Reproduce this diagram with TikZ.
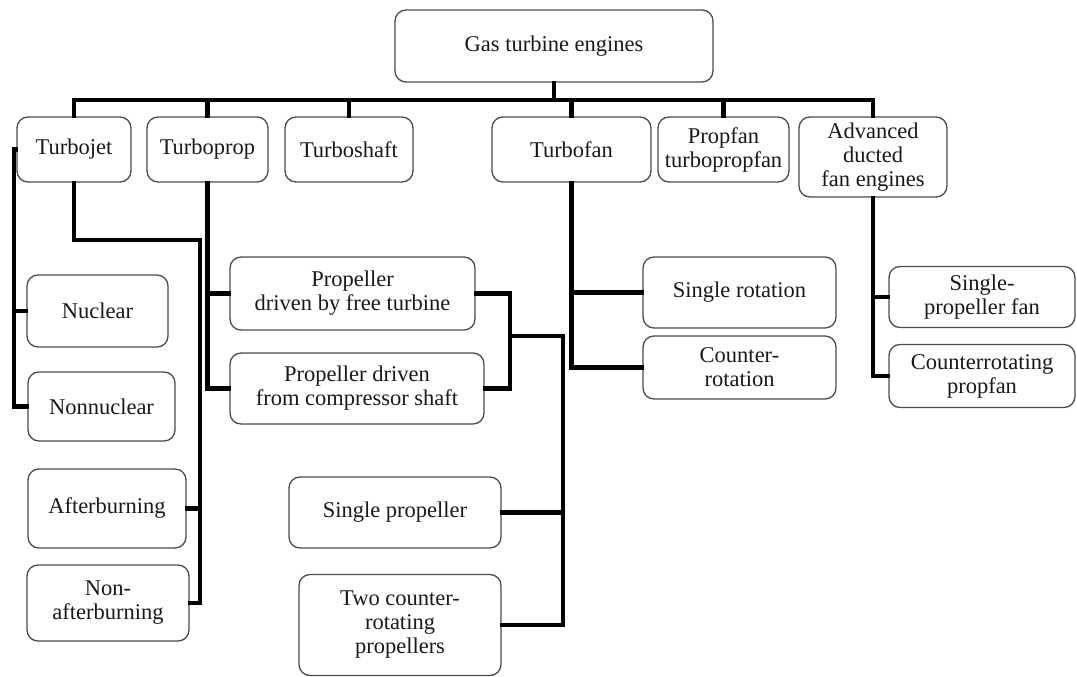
\documentclass[tikz,border=0pt]{standalone}
\usepackage{fontspec}
\setmainfont{Liberation Serif}
\begin{document}
\begin{tikzpicture}[x=1pt,y=-1pt,
  box/.style={draw=black!70, line width=1.3pt, rounded corners=11pt, align=center,
    inner sep=0pt, text=black!90, font=\fontsize{22.5}{24}\selectfont},
  conn/.style={draw=black, line width=4.2pt, line cap=rect}]
\useasboundingbox (0,0) rectangle (1077,677);
\node[box, minimum width=318, minimum height=72] (top) at (554,46) {Gas turbine engines};
\node[box, minimum width=114, minimum height=65] (turbojet) at (74,149.5) {Turbojet};
\node[box, minimum width=121, minimum height=65] (turboprop) at (207.5,149.5) {Turboprop};
\node[box, minimum width=128, minimum height=65] (turboshaft) at (349,149.5) {Turboshaft};
\node[box, minimum width=159, minimum height=65] (turbofan) at (571.5,149.5) {Turbofan};
\node[box, minimum width=131, minimum height=65] (propfan) at (723.5,149.5) {Propfan\\turbopropfan};
\node[box, minimum width=148, minimum height=80] (advanced) at (873,157) {Advanced\\ducted\\fan engines};
\node[box, minimum width=141, minimum height=72] (nuclear) at (97.5,311) {Nuclear};
\node[box, minimum width=147, minimum height=69] (nonnuclear) at (101.5,406.5) {Nonnuclear};
\node[box, minimum width=158, minimum height=79] (after) at (107,508.5) {Afterburning};
\node[box, minimum width=162, minimum height=76] (nonafter) at (108,603) {Non-\\afterburning};
\node[box, minimum width=245, minimum height=73] (freeturb) at (352.5,293.5) {Propeller\\driven by free turbine};
\node[box, minimum width=254, minimum height=71] (compshaft) at (357,388.5) {Propeller driven\\from compressor shaft};
\node[box, minimum width=212, minimum height=71] (singleprop) at (395,512.5) {Single propeller};
\node[box, minimum width=202, minimum height=101] (twocounter) at (400,625) {Two counter-\\rotating\\propellers};
\node[box, minimum width=193, minimum height=71] (singlerot) at (739.5,292.5) {Single rotation};
\node[box, minimum width=193, minimum height=63] (counterrot) at (739.5,367.5) {Counter-\\rotation};
\node[box, minimum width=186, minimum height=61] (spfan) at (982,297) {Single-\\propeller fan};
\node[box, minimum width=186, minimum height=63] (cpropfan) at (982,376) {Counterrotating\\propfan};
% helper coordinates
\coordinate (busy) at (0,100);
\coordinate (jl) at (14,0);
\coordinate (tjbend) at (200,240);
\coordinate (pr) at (510,0);
\coordinate (pm) at (510,336);
\coordinate (pv) at (563,336);
% top bus
\draw[conn] (top.south) -- (top.south |- busy);
\draw[conn] (turbojet.north) -- (turbojet.north |- busy) -- (advanced.north |- busy) -- (advanced.north);
\draw[conn] (turboprop.north) -- (turboprop.north |- busy);
\draw[conn] (turboshaft.north) -- (turboshaft.north |- busy);
\draw[conn] (turbofan.north) -- (turbofan.north |- busy);
\draw[conn] (propfan.north) -- (propfan.north |- busy);
% turbojet
\draw[conn] (turbojet.west) -| (jl |- nonnuclear.west) -- (nonnuclear.west);
\draw[conn] (nuclear.west) -- (nuclear.west -| jl);
\draw[conn] (turbojet.south) |- (tjbend) |- (nonafter.east);
\draw[conn] (after.east) -- (after.east -| tjbend);
% turboprop
\draw[conn] (turboprop.south) |- (compshaft.west);
\draw[conn] (freeturb.west) -- (freeturb.west -| turboprop.south);
\draw[conn] (freeturb.east) -| (pr |- compshaft.east) -- (compshaft.east);
\draw[conn] (pm) -- (pv) |- (twocounter.east);
\draw[conn] (singleprop.east) -- (singleprop.east -| pv);
% turbofan
\draw[conn] (turbofan.south) |- (counterrot.west);
\draw[conn] (singlerot.west) -- (singlerot.west -| turbofan.south);
% advanced
\draw[conn] (advanced.south) |- (cpropfan.west);
\draw[conn] (spfan.west) -- (spfan.west -| advanced.south);
\end{tikzpicture}
\end{document}
